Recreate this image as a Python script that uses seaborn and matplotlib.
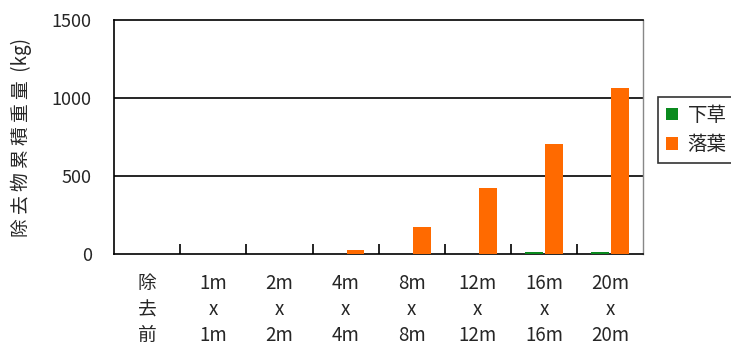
import seaborn as sns
import matplotlib.pyplot as plt
import pandas as pd

categories = ["除\n去\n前", "1m\nx\n1m", "2m\nx\n2m", "4m\nx\n4m",
              "8m\nx\n8m", "12m\nx\n12m", "16m\nx\n16m", "20m\nx\n20m"]
shitakusa = [0, 0, 0, 0, 2, 3, 10, 10]
rakuyou = [0, 0, 0, 28, 173, 423, 705, 1066]
series = ["下草", "落葉"]

df = pd.DataFrame({
    "cat": categories * 2,
    "kind": [series[0]] * len(categories) + [series[1]] * len(categories),
    "value": shitakusa + rakuyou,
})

sns.set_style("white")
plt.rcParams['font.family'] = ['Noto Sans CJK JP', 'DejaVu Sans']

fig = plt.figure(figsize=(7.31, 3.47), dpi=100)
ax = fig.add_axes([0.156, 0.268, 0.724, 0.674])

sns.barplot(data=df, x="cat", y="value", hue="kind", order=categories,
            palette=["#0a8a1e", "#ff6a00"], width=0.6, gap=0.1,
            ax=ax, zorder=3, saturation=1, linewidth=0)

for y in [500, 1000]:
    ax.axhline(y, color="black", lw=1.2, zorder=1)

ax.set_ylim(0, 1500)
ax.set_xlim(-0.5, len(categories) - 0.5)
ax.set_yticks([0, 500, 1000, 1500])
ax.tick_params(axis="y", length=0, labelsize=13, pad=16)
ax.set_xticks([i + 0.5 for i in range(len(categories) - 1)], minor=True)
ax.set_xticks(range(len(categories)))
ax.set_xticklabels(categories, fontsize=13.5, linespacing=1.3)
ax.tick_params(axis="x", which="major", length=0, pad=14)
ax.tick_params(axis="x", which="minor", direction="in", length=7,
               width=1.2, color="black", bottom=True)
ax.set_xlabel("")
ax.set_ylabel("除 去 物 累 積 重 量  (kg)", fontsize=13.5, labelpad=14)

for side in ["left", "bottom", "top"]:
    ax.spines[side].set_color("black")
    ax.spines[side].set_linewidth(1.2)
ax.spines["right"].set_color("#888888")
ax.spines["right"].set_linewidth(1.0)

leg = ax.legend(loc="center left", bbox_to_anchor=(1.01, 0.53), frameon=True,
                fontsize=14, handlelength=0.6, handleheight=0.6,
                handletextpad=0.5, borderpad=0.4, labelspacing=0.45,
                fancybox=False, edgecolor="black")
leg.get_frame().set_linewidth(1.2)

fig.savefig("out.png", dpi=100)
